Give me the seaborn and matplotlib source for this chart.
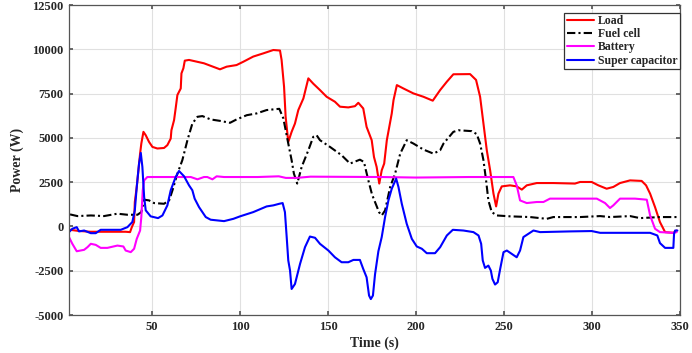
import matplotlib
matplotlib.use("Agg")
import matplotlib.pyplot as plt
import seaborn as sns
import numpy as np

# ---------------- data ----------------
load_t = [3.4, 8, 15, 25, 35, 37.5, 38.5, 39.8, 40.2, 41.3, 43.2, 43.9, 45.1, 46.4, 48.3, 50.2, 53, 56.8,
          58.7, 60.6, 61, 62.5, 63.4, 64.4, 66.3, 66.7, 67.8, 68.6, 71, 79.5, 88.6, 92.4, 98, 101.9,
          107.5, 113.2, 118.9, 122.7, 123.6, 125, 125.9, 127.4, 129.3, 131.2, 133.1, 136, 138.8,
          141.6, 145.4, 149.2, 153.9, 156.8, 161.5, 165.3, 167.2, 170, 171.9, 174.8, 176.1, 177.6,
          179.1, 180.5, 181.9, 183.4, 186.2, 187.2, 189.1, 192.8, 198.5, 204.2, 209.5, 213.7, 217.5,
          221.2, 230.7, 234.1, 236.4, 238.3, 240.2, 242.1, 244, 245.5, 246.8, 248.7, 253.4, 257.2,
          260.1, 262.9, 268.6, 278, 290.3, 293.2, 299.8, 303.6, 308.3, 312.1, 315.9, 321.6, 328.2,
          330.7, 333, 335.8, 338.6, 341.5, 346.2, 348.1]
load_p = [-190, -250, -300, -300, -300, -320, -40, 250, 1380, 2230, 4110, 4680, 5340, 5150, 4770, 4490, 4400, 4430,
          4590, 4960, 5430, 6000, 6660, 7420, 7790, 8640, 8930, 9360, 9400, 9210, 8870, 9020, 9110, 9300,
          9590, 9770, 9960, 9930, 9400, 7890, 6190, 4770, 5340, 5810, 6570, 7230, 8360,
          8060, 7700, 7320, 7040, 6760, 6720, 6790, 6980, 6660, 5620, 4870, 3920, 3360,
          2420, 3170, 3550, 4870, 6380, 7130, 7980, 7790, 7510, 7320, 7100, 7700, 8170,
          8590, 8600, 8270, 7320, 5810, 4300, 3170, 1850, 1130, 1850, 2260, 2320, 2260,
          2080, 2320, 2450, 2450, 2420, 2510, 2510, 2320, 2130, 2230, 2450, 2600, 2570,
          2320, 1850, 1090, 245, -320, -360, -230]

fc_t = [3.4, 7.6, 15.2, 22.7, 30.3, 36, 41.7, 43.9, 45.5, 48.3, 51.1, 56.8, 59.7, 61.6, 64.4, 67.2, 70.1,
        72.9, 75.8, 78.6, 83.3, 88.6, 94.3, 98, 103.8, 109.4, 115.1, 122.3, 124.6, 127.4, 129.3, 130.6,
        132.5, 135, 138.8, 141.6, 143.5, 145.4, 151.1, 157.7, 162.5, 168.1, 170.4, 172.9, 175, 177,
        179, 180.5, 182.4, 185.3, 188.1, 191, 194.7, 198.5, 204.2, 209.9, 213.7, 215.6, 221.2, 224.1,
        231.7, 234.5, 236.4, 238.3, 239.8, 241.1, 243, 245.9, 253.4, 264.8, 274.3, 278, 293.2, 304.6,
        310.2, 321.6, 327.3, 338.6, 348.1]
fc_p = [680, 585, 620, 585, 720, 660, 660, 810, 1510, 1470, 1320, 1280, 1470, 2040, 2980, 3740, 4870,
        5810, 6190, 6230, 6040, 5960, 5850, 6040, 6280, 6380, 6570, 6640, 6100, 4680, 3740, 2980,
        2420, 3360, 4300, 5060, 5150, 4870, 4490, 4020, 3550, 3770, 3640, 2600, 1800, 1300,
        800, 620, 905, 2230, 2980, 4110, 4870, 4680, 4340, 4110, 4300, 4680, 5340, 5430,
        5380, 5210, 4680, 3740, 2600, 1470, 810, 620, 570, 530, 430, 530, 530, 585,
        530, 585, 470, 530, 530]

bat_t = [2.8, 4.7, 7.2, 11.4, 13.3, 15.2, 18, 20.8, 24.6, 30.3, 33.7, 35, 37.9, 39.8, 41.3, 43.2, 43.9,
         44.7, 45.5, 47.3, 56.8, 68.2, 72, 75.8, 79.5, 81.4, 84.3, 86.7, 90.9, 110, 122, 126, 132,
         140, 180, 200, 230, 240, 255.3, 257.2, 259.1, 262.9, 268.6, 272.4, 276.1, 287.5, 302.7,
         307.4, 310.2, 312.1, 315.9, 324.4, 331.1, 333, 335.8, 338.6, 346.2, 348.1]
bat_p = [-600, -980, -1400, -1320, -1170, -980, -1040, -1210, -1210, -1080, -1130, -1360, -1450, -1260, -700, -230, 530,
         2040, 2600, 2790, 2790, 2790, 2790, 2660, 2790, 2790, 2660, 2830, 2790, 2790, 2830, 2740, 2740,
         2810, 2790, 2760, 2790, 2790, 2790, 2320, 1470, 1320, 1380, 1380, 1570, 1570, 1570,
         1320, 1040, 1190, 1570, 1570, 1510, 620, -130, -320, -360, -320]

sc_t = [2.8, 4.7, 7.2, 8.5, 11.4, 15.2, 18, 20.8, 32.2, 36, 38.8, 40.2, 41.3, 42.6, 43.6, 44.5, 45.5,
        46.4, 49.2, 53.4, 55.9, 58.7, 60.6, 63.4, 65.3, 68.2, 71, 72.9, 74.2, 76.7, 80.5, 83.3, 90.9,
        96.2, 100, 107.5, 115.1, 118.9, 122.3, 124.2, 125.5, 126.5, 127.4, 128.4, 129.3, 131.2,
        134.1, 136.9, 139.7, 142.6, 145.4, 150.2, 153.9, 157.7, 161.5, 164.4, 168.1, 170, 171.9,
        173.3, 174.3, 175.5, 176.7, 178.6, 180.5, 182.4, 184.3, 186.2, 188.7, 190, 191.9, 194.7,
        197.6, 200.4, 203.3, 206.1, 210.8, 213.7, 217.5, 220.9, 226.9, 232.6, 235.5, 237, 237.9,
        239.2, 241.1, 242.5, 243.4, 244.9, 246.4, 247.8, 249.7, 251.6, 254.4, 257.2, 259.1, 261,
        266.7, 270.5, 287.5, 299.8, 304.6, 315.9, 333, 337.1, 338.6, 341.5, 346.2, 346.6, 347.2, 348.5]
sc_p = [-320, -130, -40, -280, -230, -380, -380, -190, -190, -40, 250, 910, 2230, 3550, 4150, 3360, 1660,
        910, 570, 470, 620, 1190, 2040, 2790, 3130, 2830, 2320, 2040, 1570, 1090, 530, 380, 300,
        430, 570, 810, 1130, 1190, 1280, 1320, 810, -600, -1920, -2490, -3530, -3250,
        -2110, -1170, -570, -640, -980, -1360, -1740, -2020, -2020, -1890, -1890, -2400, -2870,
        -3900, -4100, -3900, -2700, -1400, -600, 530, 1470, 2130, 2700, 2230, 1280, 150,
        -700, -1130, -1260, -1510, -1510, -1170, -510, -190, -230, -320, -510, -980, -1920,
        -2340, -2210, -2490, -2960, -3280, -3150, -2400, -1450, -1360, -1550, -1740, -1360, -600,
        -230, -320, -280, -260, -360, -360, -360, -510, -940, -1210, -1210, -420, -230, -230]

labels = ["Load", "Fuel cell", "Battery", "Super capacitor"]
x_ticks = [50, 100, 150, 200, 250, 300, 350]
y_ticks = [-5000, -2500, 0, 2500, 5000, 7500, 10000, 12500]

# ---------------- style ----------------
sns.set_theme(style="whitegrid")
plt.rcParams["font.family"] = ["Liberation Serif", "DejaVu Serif"]
plt.rcParams["font.weight"] = "bold"
plt.rcParams["axes.unicode_minus"] = False

fig = plt.figure(figsize=(6.92, 3.53), dpi=100)
ax = fig.add_axes([0.0997, 0.1076, 0.9827 - 0.0997, 0.9858 - 0.1076])

lw = 1.5
sns.lineplot(x=load_t, y=load_p, ax=ax, color="#ff0000", lw=lw, label=labels[0], sort=False, estimator=None)
sns.lineplot(x=fc_t, y=fc_p, ax=ax, color="#000000", lw=lw, label=labels[1], sort=False, estimator=None,
             linestyle=(0, (4, 1.5, 1, 1.5)))
sns.lineplot(x=bat_t, y=bat_p, ax=ax, color="#ff00ff", lw=lw, label=labels[2], sort=False, estimator=None)
sns.lineplot(x=sc_t, y=sc_p, ax=ax, color="#0000ff", lw=lw, label=labels[3], sort=False, estimator=None)

ax.set_xlim(2.8, 350)
ax.set_ylim(-5000, 12500)
ax.set_xticks(x_ticks)
ax.set_yticks(y_ticks)
ax.set_xticklabels([str(v) for v in x_ticks], fontsize=9, fontweight="bold")
ax.set_yticklabels([str(v) for v in y_ticks], fontsize=9, fontweight="bold")
ax.grid(True, color="#e0e0e0", lw=0.8)
for s in ax.spines.values():
    s.set_color("#555555")
    s.set_linewidth(0.9)
ax.tick_params(axis="both", which="both", direction="in", length=3, color="#555555",
               top=True, right=True, bottom=True, left=True, pad=4)

ax.set_xlabel("Time (s)", fontsize=10, fontweight="bold", labelpad=3)
ax.set_ylabel("Power (W)", fontsize=10, fontweight="bold", labelpad=6)

leg = ax.legend(loc="upper right", bbox_to_anchor=(1.0, 0.975), borderaxespad=0.0,
                frameon=True, fancybox=False, handlelength=2.3,
                labelspacing=0.1, handletextpad=0.35, borderpad=0.2,
                prop={"family": ["Liberation Serif"], "weight": "bold", "size": 8.5})
leg.get_frame().set_edgecolor("#333333")
leg.get_frame().set_linewidth(0.9)
leg.get_frame().set_alpha(1)

fig.savefig("out.png", dpi=100)
